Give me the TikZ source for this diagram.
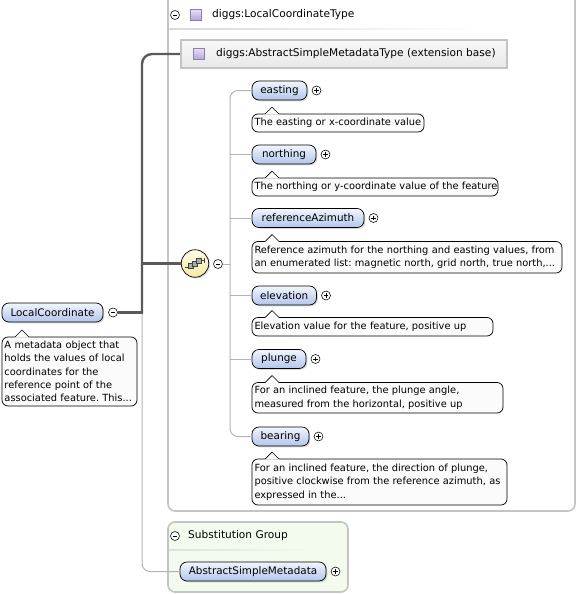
\documentclass[tikz,border=0pt]{standalone}
\usepackage{fontspec}
\setmainfont{DejaVu Sans}
\usetikzlibrary{calc,shadows}
\frenchspacing

\definecolor{elemtop}{HTML}{F2F6FD}
\definecolor{elembot}{HTML}{B2C5EC}
\definecolor{trunkgray}{HTML}{5A5A5A}
\definecolor{linegray}{HTML}{B4B4B4}
\definecolor{boxgray}{HTML}{C4C4C4}
\definecolor{subgreen}{HTML}{F2FBEE}
\definecolor{lavtop}{HTML}{E6DEF4}
\definecolor{lavbot}{HTML}{B4A4D8}
\definecolor{lavedge}{HTML}{8C7CB8}
\definecolor{seqtop}{HTML}{FFFDE8}
\definecolor{seqbot}{HTML}{F4E9A4}
\definecolor{docfill}{HTML}{FBFBFB}
\definecolor{exttop}{HTML}{F8F8F8}
\definecolor{extbot}{HTML}{E8E8E8}

% speech-bubble tip on top of a documentation box
\newcommand\docpointer[1]{%
  \fill[docfill] ($(#1.north west)+(12.4,0.7)$) -- ($(#1.north west)+(20,-7)$) -- ($(#1.north west)+(27.6,0.7)$) -- cycle;
  \draw[line width=0.7pt] ($(#1.north west)+(13,0)$) -- ($(#1.north west)+(20,-7)$) -- ($(#1.north west)+(27,0)$);}
% one unbreakable line of documentation text
\newcommand\dl[1]{\mbox{#1}}

\begin{document}
\begin{tikzpicture}[x=1pt, y=-1pt,
  every node/.style={font=\fontsize{10}{13.3}\selectfont},
  elem/.style={draw=black, line width=0.7pt, rounded corners=7pt, top color=elemtop, bottom color=elembot,
    minimum height=19pt, inner sep=0pt, outer sep=0pt, font=\fontsize{10.4}{12}\selectfont,
    drop shadow={shadow xshift=1.3pt, shadow yshift=-1.3pt, opacity=0.3}},
  doc/.style={draw=black, line width=0.7pt, rounded corners=6pt, fill=docfill, anchor=north west,
    inner xsep=2.5pt, inner ysep=0pt, outer sep=0pt, align=left,
    font=\fontsize{9.85}{13.3}\selectfont},
  pm/.style={circle, draw=black, line width=0.55pt, fill=white, minimum size=9pt, inner sep=0pt, outer sep=0pt},
  minussign/.style={pm, path picture={\draw[line width=0.7pt]
    ([xshift=-2.4pt]path picture bounding box.center) -- ([xshift=2.4pt]path picture bounding box.center);}},
  plussign/.style={pm, path picture={\draw[line width=0.7pt]
    ([xshift=-2.4pt]path picture bounding box.center) -- ([xshift=2.4pt]path picture bounding box.center)
    ([yshift=-2.4pt]path picture bounding box.center) -- ([yshift=2.4pt]path picture bounding box.center);}},
  typebox/.style={draw=boxgray, line width=1.6pt, rounded corners=7pt},
  trunk/.style={draw=trunkgray, line width=2.4pt},
  branch/.style={draw=linegray, line width=1pt},
  lav/.style={draw=lavedge, line width=0.6pt, top color=lavtop, bottom color=lavbot, minimum size=11pt, inner sep=0pt},
  headtext/.style={anchor=west, inner sep=0pt, font=\fontsize{10.6}{13}\selectfont}
]
\useasboundingbox (0,0) rectangle (578,594);

% ---- container boxes ----
\draw[typebox, fill=white] (168,-12) rectangle (575,511);
\shade[left color=gray!30, right color=white] (169,28.6) rectangle (480,29.9);
\draw[typebox, fill=subgreen] (168,522) rectangle (348,592);
\shade[left color=gray!25, right color=subgreen] (169,549.4) rectangle (310,550.7);

% ---- type header ----
\node[minussign] (typeminus) at (175,15) {};
\node[lav] (typesq) at (195.5,15) {};
\node[headtext] (typename) at (212,15) {diggs:LocalCoordinateType};

% ---- extension base ----
\node[draw=boxgray, line width=1.6pt, top color=exttop, bottom color=extbot, minimum width=326pt,
      minimum height=28pt, inner sep=0pt] (ext) at (344,54) {};
\node[lav] (extsq) at (198.5,54) {};
\node[headtext] (extname) at (216,54) {diggs:AbstractSimpleMetadataType (extension base)};

% ---- substitution group ----
\node[minussign] (subminus) at (175,536) {};
\node[headtext] (subname) at (188,536) {Substitution Group};

% ---- root element ----
\node[elem, minimum width=101pt] (lc) at (52.5,312.5) {LocalCoordinate};
\node[minussign] (lcminus) at (113,312.5) {};
\node[doc, text width=130pt, minimum height=69pt] (lcdoc) at (2,337)
  {\dl{A metadata object that}\\\dl{holds the values of local}\\\dl{coordinates for the}\\\dl{reference point of the}\\\dl{associated feature. This...}};
\docpointer{lcdoc}

% ---- sequence compositor ----
\node[circle, draw=black, line width=0.7pt, minimum size=27.5pt, inner sep=0pt, outer sep=0pt,
      top color=seqtop, bottom color=seqbot,
      drop shadow={shadow xshift=1.3pt, shadow yshift=-1.3pt, opacity=0.3}] (seq) at (195,263.5) {};
\begin{scope}[shift={(seq.center)}]
  \draw[line width=0.9pt, black!75] (-10,3.5) -- (-5,3.5) (5,-3) -- (9,-3) (9,-5.2) -- (9,-0.8);
  \foreach \dx/\dy in {-4/2.5, 0/0, 4/-2.5}
    \draw[line width=0.4pt, draw=black!75, fill=gray!65] (\dx-2.6,\dy-2.6) rectangle (\dx+2.6,\dy+2.6);
\end{scope}
\node[minussign] (seqminus) at (218,264) {};

% ---- child elements ----
\node[elem, minimum width=55pt]  (easting)  at (279.5,90.5) {easting};
\node[elem, minimum width=64pt]  (northing) at (284,154.5)  {northing};
\node[elem, minimum width=112pt] (refaz)    at (308,218)    {referenceAzimuth};
\node[elem, minimum width=64.5pt](elev)     at (284.25,295.5) {elevation};
\node[elem, minimum width=54pt]  (plunge)   at (279,359)    {plunge};
\node[elem, minimum width=57pt]  (bearing)  at (280.5,436.5) {bearing};
\node[elem, minimum width=146pt] (asm)      at (253,571.5)  {AbstractSimpleMetadata};

\foreach \n in {easting,northing,refaz,elev,plunge,bearing,asm}
  \node[plussign] (\n plus) at ($(\n.east)+(9.5,0)$) {};

% ---- documentation boxes ----
\node[doc, text width=167pt, minimum height=18pt] (eastingdoc) at (252,114)
  {\dl{The easting or x-coordinate value}};
\node[doc, text width=241pt, minimum height=18pt] (northingdoc) at (252,178)
  {\dl{The northing or y-coordinate value of the feature}};
\node[doc, text width=305pt, minimum height=31.5pt] (refazdoc) at (252,241.5)
  {\dl{Reference azimuth for the northing and easting values, from}\\\dl{an enumerated list: magnetic north, grid north, true north,...}};
\node[doc, text width=236pt, minimum height=18.5pt] (elevdoc) at (252,317.5)
  {\dl{Elevation value for the feature, positive up}};
\node[doc, text width=246pt, minimum height=30.5pt] (plungedoc) at (252,382.5)
  {\dl{For an inclined feature, the plunge angle,}\\\dl{measured from the horizontal, positive up}};
\node[doc, text width=250pt, minimum height=46pt] (bearingdoc) at (252,459)
  {\dl{For an inclined feature, the direction of plunge,}\\\dl{positive clockwise from the reference azimuth, as}\\\dl{expressed in the...}};
\foreach \n in {eastingdoc,northingdoc,refazdoc,elevdoc,plungedoc,bearingdoc}
  \docpointer{\n};

% ---- connectors ----
\coordinate (fork) at (142,312.5);
\coordinate (spine) at (230,0);
% thin link to the substitution group member
\draw[branch, rounded corners=8pt] (fork) |- (asm.west);
% heavy links from the root element
\draw[trunk] (lcminus.east) -- ([xshift=1.2pt]fork);
\draw[trunk, rounded corners=10pt] ([yshift=-1.2pt]fork) |- (ext.west);
\draw[trunk] (fork |- seq.west) -- (seq.west);
% sequence children
\draw[branch] (seqminus.east) -- (spine |- seqminus.east);
\draw[branch, rounded corners=8pt] (easting.west) -| (spine |- bearing.west) -- (bearing.west);
\foreach \n in {northing,refaz,elev,plunge}
  \draw[branch] (spine |- \n.west) -- (\n.west);
\end{tikzpicture}
\end{document}
